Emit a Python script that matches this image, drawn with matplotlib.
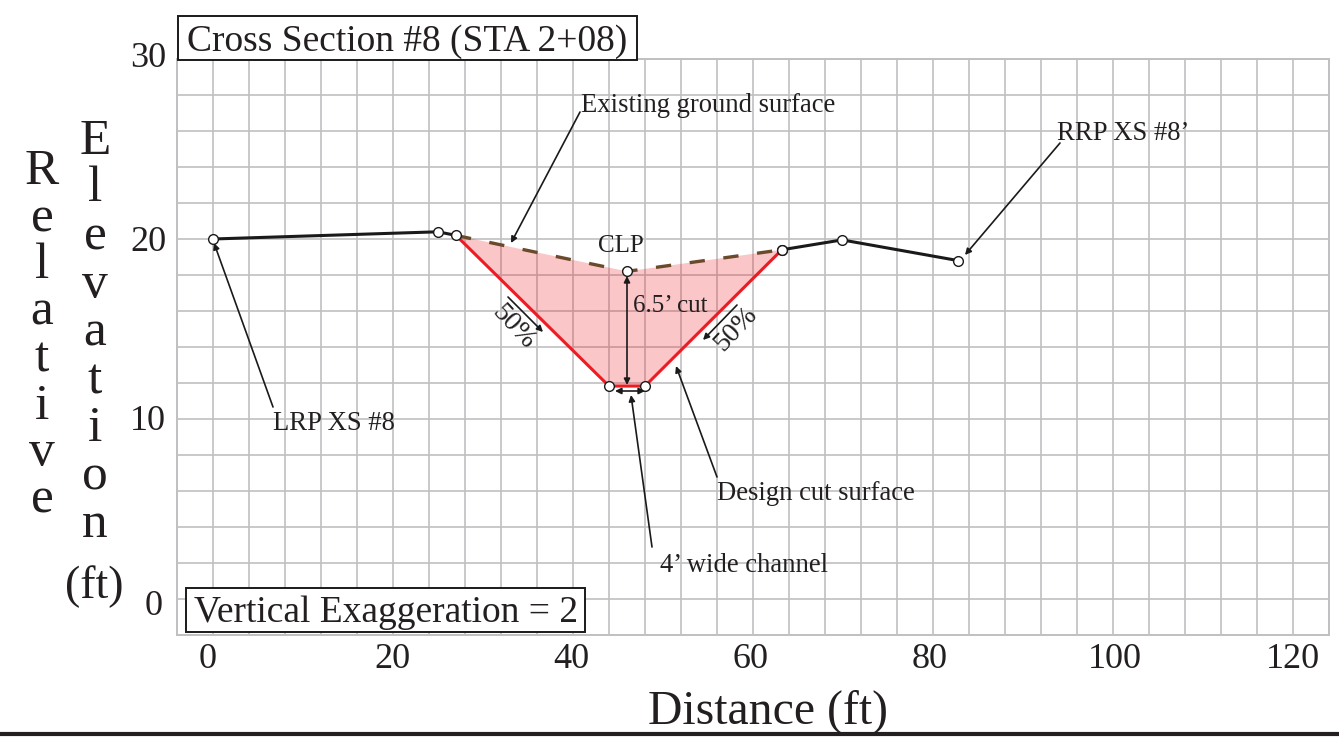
import matplotlib
matplotlib.use('Agg')
import matplotlib.pyplot as plt
from matplotlib.patches import Rectangle
from matplotlib.transforms import Affine2D

## Data
left_x = [0, 25, 27]
left_y = [20.0, 20.4, 20.2]
ground_x = [27, 46, 63.2]
ground_y = [20.2, 18.2, 19.4]
right_x = [63.2, 69.9, 82.8]
right_y = [19.4, 19.95, 18.8]
cut_x = [27, 44, 48, 63.2]
cut_y = [20.2, 11.83, 11.83, 19.4]
x_ticks = ['0', '20', '40', '60', '80', '100', '120']
y_ticks = ['30', '20', '10', '0']

W, H = 1339, 740
INK = '#231f20'
plt.rcParams['font.family'] = ['Liberation Serif', 'DejaVu Serif']

fig = plt.figure(figsize=(W / 100, H / 100), dpi=100)
ax = fig.add_axes([177 / W, 1 - 635 / H, (1329 - 177) / W, (635 - 59) / H])
ax.set_xlim(-4, 124)
ax.set_ylim(-2, 30)

# pixel coordinates from the top left, for the labels and callouts
pix = Affine2D().scale(1, -1).translate(0, H)

## Grid
ax.set_xticks(range(-4, 125, 4))
ax.set_yticks(range(-2, 31, 2))
ax.grid(color='#c0c0c2', lw=1.2, zorder=0)
ax.tick_params(length=0, labelbottom=False, labelleft=False)
ax.set_axisbelow(True)
for s in ax.spines.values():
    s.set_color('#c0c0c2')
    s.set_linewidth(1.4)

## Cut area and surfaces
ax.fill(ground_x + cut_x[::-1], ground_y + cut_y[::-1], color='#ed1c24', alpha=0.25, lw=0, zorder=2)
ax.plot(left_x, left_y, color='#1a1a1a', lw=2.2, zorder=3)
ax.plot(right_x, right_y, color='#1a1a1a', lw=2.2, zorder=3)
ax.plot(ground_x, ground_y, color='#6b4a2b', lw=2.4, dashes=(4.6, 5.6), zorder=3)
ax.plot(cut_x, cut_y, color='#ed1c24', lw=2.2, zorder=3)
for xs, ys in [(left_x, left_y), (ground_x[1:], ground_y[1:]), (right_x, right_y), (cut_x[1:3], cut_y[1:3])]:
    ax.plot(xs, ys, ls='none', marker='o', ms=7, mfc='white', mec='#1a1a1a', mew=1, zorder=5)

def arrow(start, end, style='-|>'):
    ax.annotate('', xy=end, xycoords=pix, xytext=start, textcoords=pix, annotation_clip=False, zorder=4,
                arrowprops=dict(arrowstyle=style, color='#1a1a1a', lw=1.2, mutation_scale=9, shrinkA=0, shrinkB=0))

def label(x, y, text, size=19.2, rot=0, **kw):
    fig.text(x, y, text, transform=pix, fontsize=size, rotation=rot, color=INK,
             ha=kw.pop('ha', 'center'), va=kw.pop('va', 'center'), rotation_mode='anchor', **kw)

## Tick labels
for t, x in zip(x_ticks, [207.5, 392, 571, 750, 930, 1115, 1293]):
    label(x, 668, t, size=26, va='baseline')
for t, x, y in zip(y_ticks, [166, 166, 166, 163], [67, 251, 430, 615]):
    label(x, y, t, size=26, ha='right', va='baseline')

## Callouts
label(708, 105, 'Existing ground surface')
label(1123, 134, 'RRP XS #8’')
label(334, 423, 'LRP XS #8')
label(816, 494, 'Design cut surface')
label(744, 565, '4’ wide channel')
label(621, 246, 'CLP', size=18)
label(670, 306, '6.5’ cut', size=18)
label(513, 327, '50%', size=20, rot=-47)
label(736, 329, '50%', size=20, rot=47)

arrow((580, 112), (511, 243))
arrow((273, 407), (214, 243))
arrow((1060, 143), (965, 255))
arrow((717, 477), (676, 366))
arrow((652, 547), (631, 395))
arrow((627, 276), (627, 385), '<|-|>')
arrow((615, 391), (645, 391), '<|-|>')
arrow((508, 297), (543, 332))
arrow((737, 305), (703, 340))

## Boxes
for x0, y0, x1, y1 in [(178, 16, 637, 60), (186, 588, 585, 632)]:
    fig.add_artist(Rectangle((x0, y1), x1 - x0, y0 - y1, transform=pix, fc='white', ec='#1a1a1a', lw=1.4, zorder=7))
fig.text(407, 42, 'Cross Section #8 (STA 2+08)', transform=pix, fontsize=27, color=INK, ha='center', va='center', zorder=8)
fig.text(386, 613, 'Vertical Exaggeration = 2', transform=pix, fontsize=27, color=INK, ha='center', va='center', zorder=8)

## Axis titles
label(768, 712, 'Distance (ft)', size=34.4)
label(42, 336, '\n'.join('Relative'), size=37, linespacing=1.01)
label(95, 333, '\n'.join('Elevation'), size=37, linespacing=1.04)
label(94, 587, '(ft)', size=33)

## Rule along the bottom of the figure
fig.add_artist(plt.Line2D([0, W], [733.5, 733.5], transform=pix, color=INK, lw=3))

fig.savefig('out.png', dpi=100)
